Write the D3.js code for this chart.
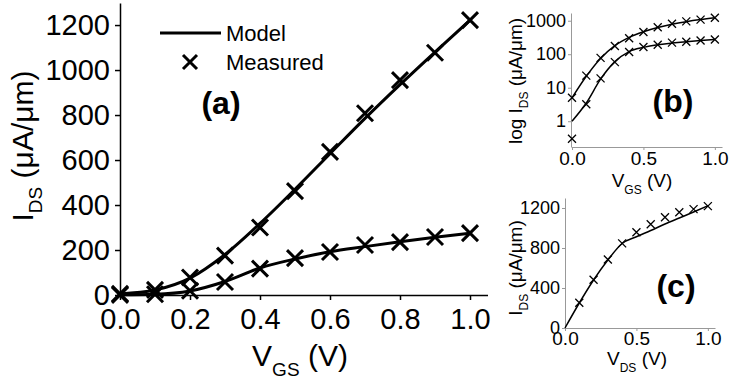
<html>
<head>
<style>
  body { margin: 0; background: #fff; }
  text { font-family: "Liberation Sans", Arial, sans-serif; fill: #000; }
</style>
</head>
<body>
<script src="https://d3js.org/d3.v7.min.js"></script>
<script>
// gate voltage sweep, shared by (a) and (b)
const vgs = [0, 0.1, 0.2, 0.3, 0.4, 0.5, 0.6, 0.7, 0.8, 0.9, 1.0];
const measHigh = [5, 23, 78, 175, 300, 462, 636, 808, 955, 1077, 1222];
const measLow = [0.3, 3.2, 19, 58, 117, 164, 191, 222, 235, 258, 275];
const modelHigh = [5, 22, 75, 180, 318, 470, 628, 785, 935, 1080, 1222];
const modelLow = [1, 3.5, 18, 60, 120, 160, 192, 215, 237, 257, 275];
// drain voltage sweep for (c)
const vds = [0, 0.1, 0.2, 0.3, 0.4, 0.5, 0.6, 0.7, 0.8, 0.9, 1.0];
const modelC = [0, 250, 480, 680, 845, 912, 975, 1040, 1100, 1160, 1222];
const vdsMeas = [0.1, 0.2, 0.3, 0.4, 0.5, 0.6, 0.7, 0.8, 0.9, 1.0];
const measC = [252, 483, 685, 846, 957, 1037, 1108, 1158, 1189, 1219];
// ticks
const ticksA_x = [0, 0.2, 0.4, 0.6, 0.8, 1.0];
const ticksA_y = [0, 200, 400, 600, 800, 1000, 1200];
const ticksB_y = [1, 10, 100, 1000];
const ticksBC_x = [0, 0.5, 1.0];
const ticksC_y = [0, 400, 800, 1200];

const svg = d3.select("body").append("svg")
  .attr("width", 729).attr("height", 381);

function cross(s) {
  return `M${-s},${-s}L${s},${s}M${-s},${s}L${s},${-s}`;
}

function drawSeries(g, x, y, xs, ys, w) {
  const line = d3.line().x((d, i) => x(xs[i])).y(d => y(d)).curve(d3.curveMonotoneX);
  g.append("path").datum(ys).attr("d", line)
    .attr("fill", "none").attr("stroke", "#000").attr("stroke-width", w);
}
function drawMarks(g, x, y, xs, ys, s, w) {
  ys.forEach((d, i) => {
    g.append("path").attr("d", cross(s))
      .attr("transform", `translate(${x(xs[i])},${y(d)})`)
      .attr("fill", "none").attr("stroke", "#000").attr("stroke-width", w);
  });
}
function styleAxis(g, color, fs, width) {
  g.selectAll("path.domain").attr("stroke", color).attr("stroke-width", width);
  g.selectAll(".tick line").attr("stroke", color).attr("stroke-width", width);
  g.selectAll(".tick text").style("font-size", fs + "px").attr("fill", "#000")
    .style("font-family", '"Liberation Sans", Arial, sans-serif');
}

// ---------- (a) ----------
const xa = d3.scaleLinear().domain([0, 1.05]).range([120, 487.5]);
const ya = d3.scaleLinear().domain([0, 1298]).range([295, 3]);

const gax = svg.append("g").attr("transform", "translate(0,295)");
gax.call(d3.axisBottom(xa).tickValues([0.1, 0.3, 0.5, 0.7, 0.9]).tickSize(3).tickSizeOuter(0).tickFormat(""));
gax.call(d3.axisBottom(xa).tickValues(ticksA_x).tickSize(5).tickSizeOuter(0).tickPadding(8).tickFormat(d3.format(".1f")));
styleAxis(gax, "#000", 29, 1.5);

const gay = svg.append("g").attr("transform", "translate(120,0)");
gay.call(d3.axisLeft(ya).tickValues([100, 300, 500, 700, 900, 1100]).tickSize(3).tickSizeOuter(0).tickFormat(""));
gay.call(d3.axisLeft(ya).tickValues(ticksA_y).tickSize(5).tickSizeOuter(0).tickPadding(5).tickFormat(d3.format("d")));
styleAxis(gay, "#000", 29, 1.5);

const ga = svg.append("g");
drawSeries(ga, xa, ya, vgs, modelHigh, 3);
drawSeries(ga, xa, ya, vgs, modelLow, 3);
drawMarks(ga, xa, ya, vgs, measHigh, 8, 3);
drawMarks(ga, xa, ya, vgs, measLow, 8, 3);

// legend
svg.append("line").attr("x1", 160).attr("x2", 221).attr("y1", 33).attr("y2", 33)
  .attr("stroke", "#000").attr("stroke-width", 3);
svg.append("text").attr("x", 226).attr("y", 41).style("font-size", "22px").text("Model");
svg.append("path").attr("d", cross(7)).attr("transform", "translate(190,62)")
  .attr("fill", "none").attr("stroke", "#000").attr("stroke-width", 3);
svg.append("text").attr("x", 226).attr("y", 70).style("font-size", "22px").text("Measured");
svg.append("text").attr("x", 221).attr("y", 114).attr("text-anchor", "middle")
  .style("font-size", "32px").style("font-weight", "bold").text("(a)");

// axis titles (a)
const ta = svg.append("text").attr("transform", "translate(33,146) rotate(-90)")
  .attr("text-anchor", "middle").style("font-size", "30px");
ta.append("tspan").text("I");
ta.append("tspan").attr("dy", 9).style("font-size", "19px").text("DS");
ta.append("tspan").attr("dy", -9).text(" (μA/μm)");

const txa = svg.append("text").attr("x", 300).attr("y", 366)
  .attr("text-anchor", "middle").style("font-size", "30px");
txa.append("tspan").text("V");
txa.append("tspan").attr("dy", 10).style("font-size", "19px").text("GS");
txa.append("tspan").attr("dy", -10).text(" (V)");

// ---------- (b) ----------
const xb = d3.scaleLinear().domain([0, 1.05]).range([572, 722]);
const yb = d3.scaleLog().domain([0.17, 1700]).range([147, 13]);

const gbx = svg.append("g").attr("transform", "translate(0,147)");
gbx.call(d3.axisBottom(xb).tickValues([0.25, 0.75]).tickSize(2).tickSizeOuter(0).tickFormat(""));
gbx.call(d3.axisBottom(xb).tickValues(ticksBC_x).tickSize(3).tickSizeOuter(0).tickPadding(2).tickFormat(d3.format(".1f")));
styleAxis(gbx, "#999", 19, 1);

const minorLog = [];
[0.1, 1, 10, 100, 1000].forEach(dec => {
  for (let k = 2; k <= 9; k++) {
    const v = dec * k;
    if (v > 0.17 && v < 1700) minorLog.push(v);
  }
});
const gby = svg.append("g").attr("transform", "translate(571,0)");
gby.call(d3.axisLeft(yb).tickValues(minorLog).tickSize(2).tickSizeOuter(0).tickFormat(""));
gby.call(d3.axisLeft(yb).tickValues(ticksB_y).tickSize(3).tickSizeOuter(0).tickPadding(2).tickFormat(d3.format("d")));
styleAxis(gby, "#999", 18, 1);

const gb = svg.append("g");
drawSeries(gb, xb, yb, vgs, modelHigh, 1.5);
drawSeries(gb, xb, yb, vgs, modelLow, 1.5);
drawMarks(gb, xb, yb, vgs, measHigh, 4, 1.3);
drawMarks(gb, xb, yb, vgs, measLow, 4, 1.3);

svg.append("text").attr("x", 673).attr("y", 112).attr("text-anchor", "middle")
  .style("font-size", "32px").style("font-weight", "bold").text("(b)");

const tb = svg.append("text").attr("transform", "translate(522,81) rotate(-90)")
  .attr("text-anchor", "middle").style("font-size", "19px");
tb.append("tspan").text("log I");
tb.append("tspan").attr("dy", 6).style("font-size", "12px").text("DS");
tb.append("tspan").attr("dy", -6).text(" (μA/μm)");

const txb = svg.append("text").attr("x", 642).attr("y", 187)
  .attr("text-anchor", "middle").style("font-size", "19px");
txb.append("tspan").text("V");
txb.append("tspan").attr("dy", 7).style("font-size", "12px").text("GS");
txb.append("tspan").attr("dy", -7).text(" (V)");

// ---------- (c) ----------
const xc = d3.scaleLinear().domain([0, 1.05]).range([565, 715]);
const yc = d3.scaleLinear().domain([0, 1300]).range([328, 198]);

const gcx = svg.append("g").attr("transform", "translate(0,328)");
gcx.call(d3.axisBottom(xc).tickValues([0.25, 0.75]).tickSize(2).tickSizeOuter(0).tickFormat(""));
gcx.call(d3.axisBottom(xc).tickValues(ticksBC_x).tickSize(3).tickSizeOuter(0).tickPadding(1).tickFormat(d3.format(".1f")));
styleAxis(gcx, "#999", 19, 1);

const gcy = svg.append("g").attr("transform", "translate(565,0)");
gcy.call(d3.axisLeft(yc).tickValues([200, 600, 1000]).tickSize(2).tickSizeOuter(0).tickFormat(""));
gcy.call(d3.axisLeft(yc).tickValues(ticksC_y).tickSize(3).tickSizeOuter(0).tickPadding(2).tickFormat(d3.format("d")));
styleAxis(gcy, "#999", 18, 1);

const gc = svg.append("g");
drawSeries(gc, xc, yc, vds, modelC, 1.5);
drawMarks(gc, xc, yc, vdsMeas, measC, 4, 1.3);

svg.append("text").attr("x", 676).attr("y", 297).attr("text-anchor", "middle")
  .style("font-size", "32px").style("font-weight", "bold").text("(c)");

const tc = svg.append("text").attr("transform", "translate(522,268) rotate(-90)")
  .attr("text-anchor", "middle").style("font-size", "19px");
tc.append("tspan").text("I");
tc.append("tspan").attr("dy", 6).style("font-size", "12px").text("DS");
tc.append("tspan").attr("dy", -6).text(" (μA/μm)");

const txc = svg.append("text").attr("x", 637).attr("y", 365)
  .attr("text-anchor", "middle").style("font-size", "19px");
txc.append("tspan").text("V");
txc.append("tspan").attr("dy", 7).style("font-size", "12px").text("DS");
txc.append("tspan").attr("dy", -7).text(" (V)");
</script>
</body>
</html>
